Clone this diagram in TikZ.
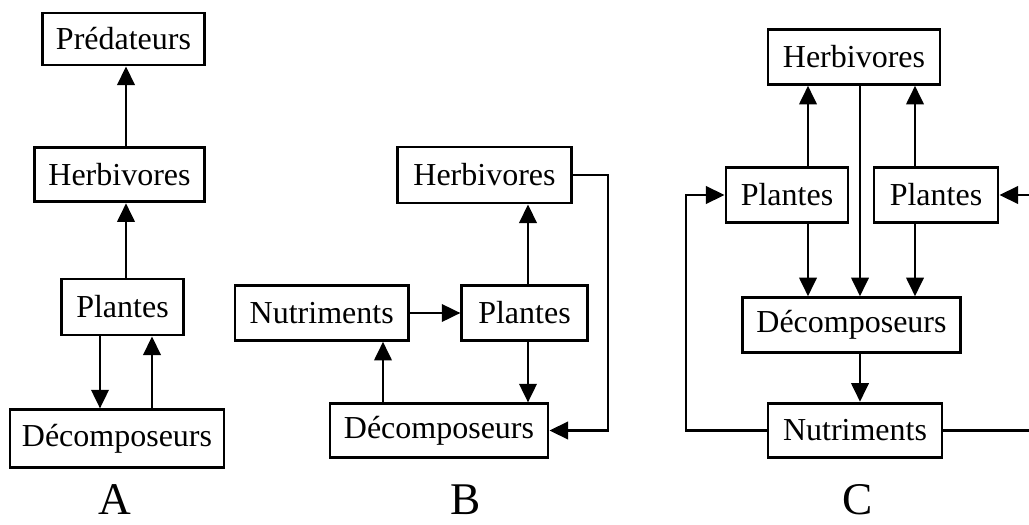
\documentclass[tikz,border=0pt]{standalone}
\usepackage{fontspec}
\setmainfont{Liberation Serif}
\usepackage{tikz}
\usetikzlibrary{positioning, arrows.meta}
\tikzset{
	box/.style={
		draw,
		line width=2.1pt,
		inner sep=0pt,
		minimum height=41pt,
		font=\fontsize{24}{28}\selectfont
	},
	wire/.style={
		line width=2.1pt
	},
	link/.style={
		wire,
		-{Triangle[length=14pt, width=13pt]}
	},
	panel/.style={
		inner sep=0pt,
		font=\fontsize{34}{36}\selectfont
	}
}

\begin{document}
\begin{tikzpicture}[x=0.75pt, y=-0.75pt]
\useasboundingbox (0,0) rectangle (1029,525);
% ---
% A: chain
% ---
\node[box, minimum width=122pt, minimum height=39pt] at (123.5,39) (aPred) {Prédateurs};
\node[box, minimum width=127pt] at (119.5,174.5) (aHerb) {Herbivores};
\node[box, minimum width=92pt, minimum height=42pt] at (122.5,307) (aPlan) {Plantes};
\node[box, minimum width=160.5pt, minimum height=43pt] at (117,438.5) (aDec) {Décomposeurs};
\node[panel] at (115,500) (aLabel) {A};

\coordinate (aAxis) at (126,0);
\coordinate (aL) at (100,0);
\coordinate (aR) at (152,0);

\draw[link] (aHerb.north -| aAxis) to (aPred.south -| aAxis);
\draw[link] (aPlan.north -| aAxis) to (aHerb.south -| aAxis);
\draw[link] (aPlan.south -| aL) to (aDec.north -| aL);
\draw[link] (aDec.north -| aR) to (aPlan.south -| aR);

% ---
% B: with nutrients
% ---
\node[box, minimum width=130pt, minimum height=42pt] at (484.5,175) (bHerb) {Herbivores};
\node[box, minimum width=94pt] at (524.5,313) (bPlan) {Plantes};
\node[box, minimum width=130pt, left=38pt of bPlan] (bNut) {Nutriments};
\node[box, minimum width=163.5pt, minimum height=40pt] at (439,430.5) (bDec) {Décomposeurs};
\node[panel] at (466,500) (bLabel) {B};

\coordinate (bAxis) at (528,0);
\coordinate (bUp) at (383,0);
\coordinate (bLoop) at (608,0);

\draw[link] (bNut) to (bPlan);
\draw[link] (bPlan.north -| bAxis) to (bHerb.south -| bAxis);
\draw[link] (bPlan.south -| bAxis) to (bDec.north -| bAxis);
\draw[link] (bDec.north -| bUp) to (bNut.south -| bUp);
\draw[link] (bHerb.east) -- (bHerb.east -| bLoop) -- (bDec.east -| bLoop) -- (bDec.east);

% ---
% C: two plant groups
% ---
\node[box, minimum width=129pt] at (854,57) (cHerb) {Herbivores};
\node[box, minimum width=91.5pt] at (787,195) (cPlL) {Plantes};
\node[box, minimum width=93pt] at (936,195) (cPlR) {Plantes};
\node[box, minimum width=164pt] at (851.5,325) (cDec) {Décomposeurs};
\node[box, minimum width=130.5pt] at (855,430.5) (cNut) {Nutriments};
\node[panel] at (858,500) (cLabel) {C};

\coordinate (cL) at (808,0);
\coordinate (cM) at (860,0);
\coordinate (cR) at (915,0);
\coordinate (cLoop) at (686,0);
\coordinate (cEdge) at (1029,0);

\draw[link] (cPlL.north -| cL) to (cHerb.south -| cL);
\draw[link] (cPlR.north -| cR) to (cHerb.south -| cR);
\draw[link] (cHerb.south -| cM) to (cDec.north -| cM);
\draw[link] (cPlL.south -| cL) to (cDec.north -| cL);
\draw[link] (cPlR.south -| cR) to (cDec.north -| cR);
\draw[link] (cDec.south -| cM) to (cNut.north -| cM);

\draw[link] (cNut.west) -- (cNut.west -| cLoop) -- (cPlL.west -| cLoop) -- (cPlL.west);
\draw[wire] (cNut.east) -- (cNut.east -| cEdge);
\draw[link] (cPlR.east -| cEdge) -- (cPlR.east);
\end{tikzpicture}
\end{document}
